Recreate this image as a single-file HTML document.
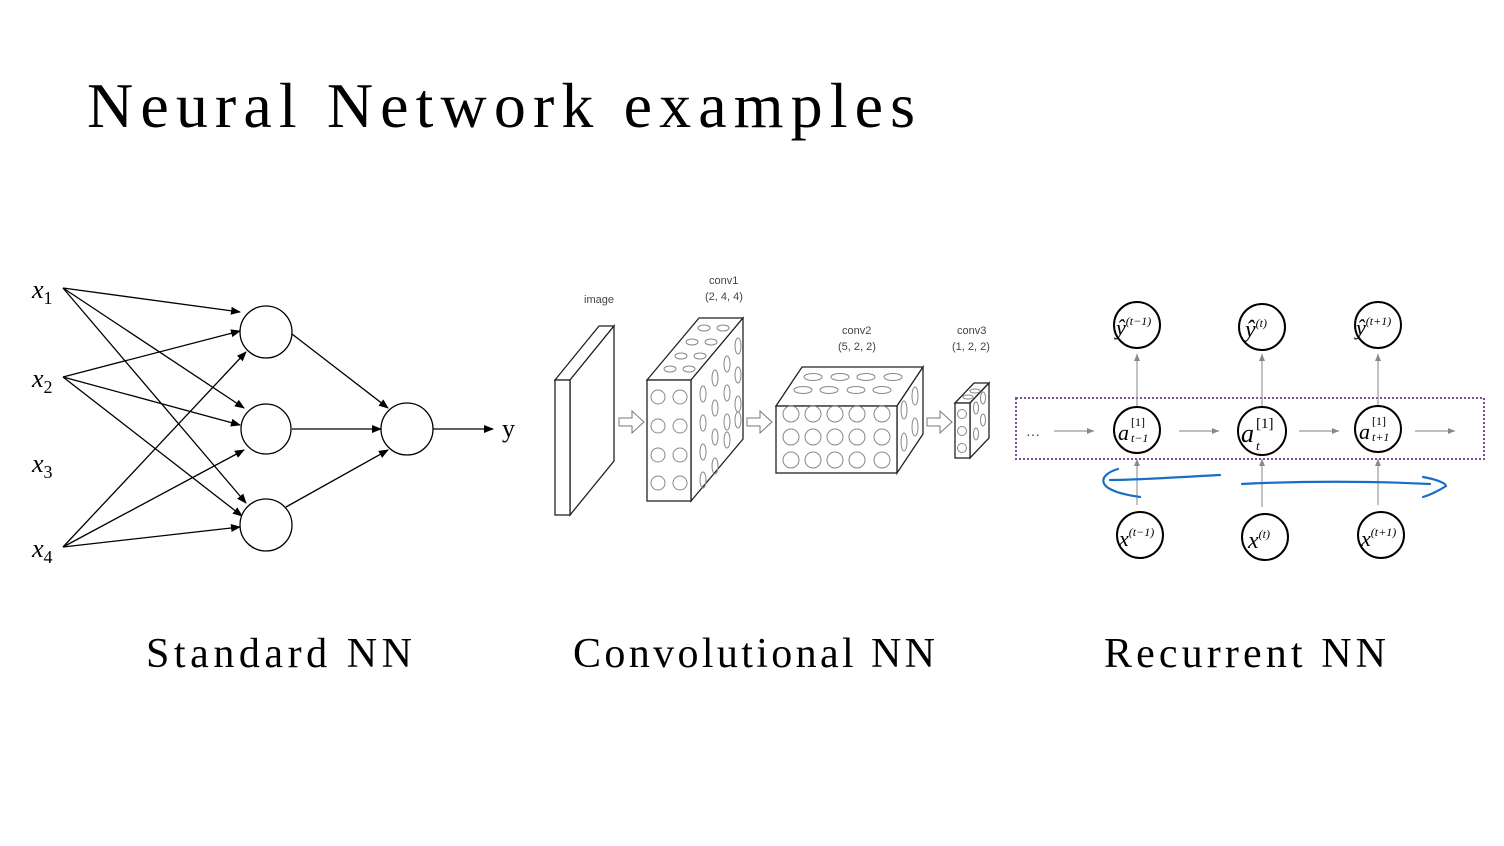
<!DOCTYPE html>
<html><head><meta charset="utf-8"><style>
body{margin:0;background:#fff;}
svg{display:block}
.t{font-family:"Liberation Serif",serif;}
.s{font-family:"Liberation Sans",sans-serif;fill:#444;font-size:11px}
</style></head><body>
<svg width="1504" height="846" viewBox="0 0 1504 846" xmlns="http://www.w3.org/2000/svg">
<defs>
<marker id="a" markerWidth="10" markerHeight="8" refX="9" refY="4" orient="auto" markerUnits="userSpaceOnUse"><path d="M0,0 L10,4 L0,8z" fill="#000"/></marker>
<marker id="g" markerWidth="7" markerHeight="6" refX="7" refY="3" orient="auto" markerUnits="userSpaceOnUse"><path d="M0,0 L7,3 L0,6z" fill="#888"/></marker>
</defs>
<text class="t" x="87" y="127" font-size="64" textLength="828" lengthAdjust="spacing">Neural  Network examples</text>
<text class="t" x="146" y="667" font-size="42" textLength="266" lengthAdjust="spacing">Standard NN</text>
<text class="t" x="573" y="667" font-size="42" textLength="362" lengthAdjust="spacing">Convolutional NN</text>
<text class="t" x="1104" y="667" font-size="42" textLength="282" lengthAdjust="spacing">Recurrent NN</text>

<!-- Standard NN -->
<g class="t" font-style="italic" font-size="26">
<text x="32" y="298">x<tspan font-size="18" font-style="normal" dy="6">1</tspan></text>
<text x="32" y="387">x<tspan font-size="18" font-style="normal" dy="6">2</tspan></text>
<text x="32" y="472">x<tspan font-size="18" font-style="normal" dy="6">3</tspan></text>
<text x="32" y="557">x<tspan font-size="18" font-style="normal" dy="6">4</tspan></text>
</g>
<g stroke="#000" stroke-width="1.3" fill="none" marker-end="url(#a)">
<line x1="63" y1="288" x2="240" y2="312"/><line x1="63" y1="288" x2="244" y2="408"/><line x1="63" y1="288" x2="246" y2="503"/>
<line x1="63" y1="377" x2="240" y2="331"/><line x1="63" y1="377" x2="240" y2="425"/><line x1="63" y1="377" x2="242" y2="516"/>
<line x1="63" y1="547" x2="246" y2="352"/><line x1="63" y1="547" x2="244" y2="450"/><line x1="63" y1="547" x2="240" y2="527"/>
<line x1="292" y1="334" x2="388" y2="408"/><line x1="292" y1="429" x2="381" y2="429"/><line x1="286" y1="507" x2="388" y2="450"/>
<line x1="433" y1="429" x2="493" y2="429"/>
</g>
<g stroke="#000" stroke-width="1.3" fill="#fff">
<circle cx="266" cy="332" r="26"/><circle cx="266" cy="429" r="25"/><circle cx="266" cy="525" r="26"/><circle cx="407" cy="429" r="26"/>
</g>
<text class="t" x="502" y="437" font-size="26">y</text>

<!-- CNN -->
<text class="s" x="584" y="303">image</text>
<text class="s" x="709" y="284">conv1</text><text class="s" x="705" y="300">(2, 4, 4)</text>
<text class="s" x="842" y="334">conv2</text><text class="s" x="838" y="350">(5, 2, 2)</text>
<text class="s" x="957" y="334">conv3</text><text class="s" x="952" y="350">(1, 2, 2)</text>
<g stroke="#222" stroke-width="1.3" fill="#fff">
<path d="M555,380 L599,326 L614,326 L570,380z"/><path d="M570,380 L614,326 L614,461 L570,515z"/><rect x="555" y="380" width="15" height="135"/>
<path d="M647,380 L699,318 L743,318 L691,380z"/><path d="M691,380 L743,318 L743,439 L691,501z"/><rect x="647" y="380" width="44" height="121"/>
<path d="M776,406 L802,367 L923,367 L897,406z"/><path d="M897,406 L923,367 L923,434 L897,473z"/><rect x="776" y="406" width="121" height="67"/>
<path d="M955,403 L974,383 L989,383 L970,403z"/><path d="M970,403 L989,383 L989,438 L970,458z"/><rect x="955" y="403" width="15" height="55"/>
</g>
<g stroke="#888" stroke-width="1" fill="none">
<circle cx="658" cy="397" r="7"/><circle cx="680" cy="397" r="7"/><circle cx="658" cy="426" r="7"/><circle cx="680" cy="426" r="7"/>
<circle cx="658" cy="455" r="7"/><circle cx="680" cy="455" r="7"/><circle cx="658" cy="483" r="7"/><circle cx="680" cy="483" r="7"/>
<ellipse cx="704" cy="328" rx="6" ry="3"/><ellipse cx="723" cy="328" rx="6" ry="3"/><ellipse cx="692" cy="342" rx="6" ry="3"/><ellipse cx="711" cy="342" rx="6" ry="3"/>
<ellipse cx="681" cy="356" rx="6" ry="3"/><ellipse cx="700" cy="356" rx="6" ry="3"/><ellipse cx="670" cy="369" rx="6" ry="3"/><ellipse cx="689" cy="369" rx="6" ry="3"/>
<ellipse cx="738" cy="346" rx="3" ry="8"/><ellipse cx="727" cy="364" rx="3" ry="8"/><ellipse cx="715" cy="378" rx="3" ry="8"/><ellipse cx="703" cy="394" rx="3" ry="8"/>
<ellipse cx="738" cy="375" rx="3" ry="8"/><ellipse cx="727" cy="393" rx="3" ry="8"/><ellipse cx="715" cy="408" rx="3" ry="8"/><ellipse cx="703" cy="423" rx="3" ry="8"/>
<ellipse cx="738" cy="404" rx="3" ry="8"/><ellipse cx="727" cy="422" rx="3" ry="8"/><ellipse cx="715" cy="437" rx="3" ry="8"/><ellipse cx="703" cy="452" rx="3" ry="8"/>
<ellipse cx="738" cy="420" rx="3" ry="8"/><ellipse cx="727" cy="440" rx="3" ry="8"/><ellipse cx="715" cy="466" rx="3" ry="8"/><ellipse cx="703" cy="480" rx="3" ry="8"/>
<circle cx="791" cy="414" r="8"/><circle cx="813" cy="414" r="8"/><circle cx="835" cy="414" r="8"/><circle cx="857" cy="414" r="8"/><circle cx="882" cy="414" r="8"/>
<circle cx="791" cy="437" r="8"/><circle cx="813" cy="437" r="8"/><circle cx="835" cy="437" r="8"/><circle cx="857" cy="437" r="8"/><circle cx="882" cy="437" r="8"/>
<circle cx="791" cy="460" r="8"/><circle cx="813" cy="460" r="8"/><circle cx="835" cy="460" r="8"/><circle cx="857" cy="460" r="8"/><circle cx="882" cy="460" r="8"/>
<ellipse cx="813" cy="377" rx="9" ry="3.5"/><ellipse cx="840" cy="377" rx="9" ry="3.5"/><ellipse cx="866" cy="377" rx="9" ry="3.5"/><ellipse cx="893" cy="377" rx="9" ry="3.5"/>
<ellipse cx="803" cy="390" rx="9" ry="3.5"/><ellipse cx="829" cy="390" rx="9" ry="3.5"/><ellipse cx="856" cy="390" rx="9" ry="3.5"/><ellipse cx="882" cy="390" rx="9" ry="3.5"/>
<ellipse cx="915" cy="396" rx="3" ry="9"/><ellipse cx="904" cy="410" rx="3" ry="9"/><ellipse cx="915" cy="427" rx="3" ry="9"/><ellipse cx="904" cy="442" rx="3" ry="9"/>
<circle cx="962" cy="414" r="4.5"/><circle cx="962" cy="431" r="4.5"/><circle cx="962" cy="448" r="4.5"/>
<ellipse cx="983" cy="398" rx="2.5" ry="6"/><ellipse cx="976" cy="408" rx="2.5" ry="6"/><ellipse cx="983" cy="420" rx="2.5" ry="6"/><ellipse cx="976" cy="434" rx="2.5" ry="6"/>
<ellipse cx="975" cy="391" rx="5" ry="2"/><ellipse cx="968" cy="397" rx="5" ry="2"/>
</g>
<g stroke="#777" stroke-width="1" fill="#fff">
<path d="M619,418 L632,418 L632,411 L644,422 L632,433 L632,426 L619,426z"/>
<path d="M747,418 L760,418 L760,411 L772,422 L760,433 L760,426 L747,426z"/>
<path d="M927,418 L940,418 L940,411 L952,422 L940,433 L940,426 L927,426z"/>
</g>

<!-- RNN -->
<rect x="1016" y="398" width="468" height="61" fill="none" stroke="#7a4f9a" stroke-width="2" stroke-dasharray="2,2"/>
<text x="1026" y="436" font-size="14" fill="#333" font-family="Liberation Serif,serif">…</text>
<g stroke="#999" stroke-width="1.2" marker-end="url(#g)">
<line x1="1054" y1="431" x2="1094" y2="431"/><line x1="1179" y1="431" x2="1219" y2="431"/><line x1="1299" y1="431" x2="1339" y2="431"/><line x1="1415" y1="431" x2="1455" y2="431"/>
<line x1="1137" y1="406" x2="1137" y2="354"/><line x1="1262" y1="406" x2="1262" y2="354"/><line x1="1378" y1="406" x2="1378" y2="354"/>
<line x1="1137" y1="505" x2="1137" y2="459"/><line x1="1262" y1="507" x2="1262" y2="459"/><line x1="1378" y1="505" x2="1378" y2="459"/>
</g>
<g stroke="#000" stroke-width="2" fill="#fff">
<circle cx="1137" cy="325" r="23"/><circle cx="1262" cy="327" r="23"/><circle cx="1378" cy="325" r="23"/>
<circle cx="1137" cy="430" r="23"/><circle cx="1262" cy="431" r="24"/><circle cx="1378" cy="429" r="23"/>
<circle cx="1140" cy="535" r="23"/><circle cx="1265" cy="537" r="23"/><circle cx="1381" cy="535" r="23"/>
</g>
<g font-family="Liberation Serif,serif" font-style="italic" fill="#000">
<text x="1116" y="335" font-size="22">ŷ<tspan font-size="12" dy="-10">(t−1)</tspan></text>
<text x="1245" y="337" font-size="24">ŷ<tspan font-size="12" dy="-10">(t)</tspan></text>
<text x="1356" y="335" font-size="22">ŷ<tspan font-size="12" dy="-10">(t+1)</tspan></text>
<text x="1118" y="440" font-size="22">a</text><text x="1131" y="426" font-size="12" font-style="normal">[1]</text><text x="1131" y="442" font-size="12">t−1</text>
<text x="1241" y="442" font-size="26">a</text><text x="1256" y="428" font-size="15" font-style="normal">[1]</text><text x="1256" y="450" font-size="13">t</text>
<text x="1359" y="439" font-size="22">a</text><text x="1372" y="425" font-size="12" font-style="normal">[1]</text><text x="1372" y="441" font-size="12">t+1</text>
<text x="1119" y="546" font-size="22">x<tspan font-size="12" dy="-10">(t−1)</tspan></text>
<text x="1248" y="548" font-size="24">x<tspan font-size="12" dy="-10">(t)</tspan></text>
<text x="1361" y="546" font-size="22">x<tspan font-size="12" dy="-10">(t+1)</tspan></text>
</g>
<g stroke="#1a6fc4" stroke-width="2.2" fill="none" stroke-linecap="round">
<path d="M1220,475 C1180,477 1140,480 1110,480"/>
<path d="M1118,469 C1100,474 1090,490 1140,497"/>
<path d="M1242,484 C1300,481 1370,481 1430,484"/>
<path d="M1423,477 C1440,480 1446,484 1446,486 C1440,490 1430,495 1423,497"/>
</g>
</svg>
</body></html>
